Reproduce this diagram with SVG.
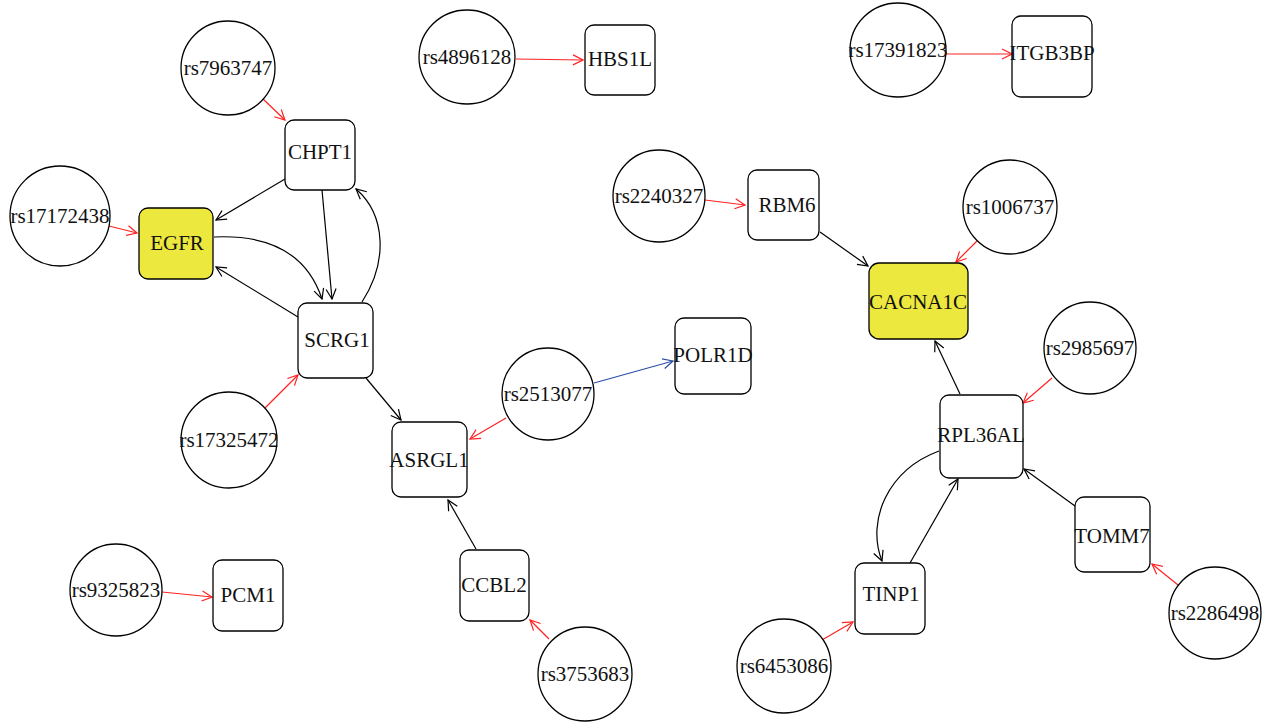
<svg xmlns="http://www.w3.org/2000/svg" width="1265" height="722" viewBox="0 0 1265 722">
<style>
.c{fill:#fff;stroke:#000;stroke-width:1.3}
.r{fill:#fff;stroke:#000;stroke-width:1.3}
.y{fill:#ede83d;stroke:#000;stroke-width:1.3}
text{font-family:"Liberation Serif","Times New Roman",serif;font-size:21px;fill:#111;text-anchor:middle}
.e{fill:none;stroke-width:1.2}
.k{stroke:#000;marker-end:url(#ak)}
.rd{stroke:#f22;marker-end:url(#ar)}
.bl{stroke:#2b4ea8;marker-end:url(#ab)}
</style>
<defs>
<marker id="ak" viewBox="0 0 12 12" refX="11" refY="6" markerWidth="12" markerHeight="12" markerUnits="userSpaceOnUse" orient="auto"><path d="M1,1 L11,6 L1,11" fill="none" stroke="#000" stroke-width="1.2"/></marker>
<marker id="ar" viewBox="0 0 12 12" refX="11" refY="6" markerWidth="12" markerHeight="12" markerUnits="userSpaceOnUse" orient="auto"><path d="M1,1 L11,6 L1,11" fill="none" stroke="#f22" stroke-width="1.2"/></marker>
<marker id="ab" viewBox="0 0 12 12" refX="11" refY="6" markerWidth="12" markerHeight="12" markerUnits="userSpaceOnUse" orient="auto"><path d="M1,1 L11,6 L1,11" fill="none" stroke="#2b4ea8" stroke-width="1.2"/></marker>
</defs>
<g id="edges">
<path class="e rd" d="M262,98 L285,120"/>
<path class="e rd" d="M109,226 L137,233"/>
<path class="e k" d="M285,179 L216,220"/>
<path class="e k" d="M322,190 L332,299"/>
<path class="e k" d="M214,237 Q300,233 322,299"/>
<path class="e k" d="M362,302 C388,262 386,215 356,189"/>
<path class="e k" d="M298,317 L216,267"/>
<path class="e rd" d="M265,408 L298,375"/>
<path class="e k" d="M366,378 L401,420"/>
<path class="e rd" d="M506,418 L470,439"/>
<path class="e bl" d="M594,383 L673,361"/>
<path class="e k" d="M476,549 L448,500"/>
<path class="e rd" d="M549,639 L530,620"/>
<path class="e rd" d="M162,592 L212,597"/>
<path class="e rd" d="M516,59 L583,60"/>
<path class="e rd" d="M947,54 L1012,54"/>
<path class="e rd" d="M705,200 L745,205"/>
<path class="e k" d="M820,232 L868,266"/>
<path class="e rd" d="M977,241 L956,262"/>
<path class="e k" d="M960,394 L935,341"/>
<path class="e rd" d="M1052,378 L1023,403"/>
<path class="e k" d="M1075,506 L1024,469"/>
<path class="e rd" d="M1178,585 L1152,564"/>
<path class="e k" d="M910,563 L958,479"/>
<path class="e k" d="M939,451 C888,470 866,520 882,561"/>
<path class="e rd" d="M822,640 L853,622"/>
</g>
<g id="rs7963747"><circle class="c" cx="228" cy="68" r="47"/><text x="228" y="75">rs7963747</text></g>
<g id="rs4896128"><ellipse class="c" cx="467" cy="57" rx="48" ry="47"/><text x="467" y="64">rs4896128</text></g>
<g id="rs17391823"><ellipse class="c" cx="898" cy="50" rx="48" ry="47"/><text x="898" y="57">rs17391823</text></g>
<g id="rs17172438"><circle class="c" cx="60" cy="216" r="50"/><text x="60" y="223">rs17172438</text></g>
<g id="rs2240327"><circle class="c" cx="659" cy="196" r="46"/><text x="659" y="203">rs2240327</text></g>
<g id="rs1006737"><circle class="c" cx="1010" cy="207" r="47"/><text x="1010" y="214">rs1006737</text></g>
<g id="rs2985697"><circle class="c" cx="1090" cy="348" r="46"/><text x="1090" y="355">rs2985697</text></g>
<g id="rs2513077"><circle class="c" cx="548" cy="394" r="46"/><text x="548" y="401">rs2513077</text></g>
<g id="rs17325472"><circle class="c" cx="229" cy="440" r="48"/><text x="229" y="447">rs17325472</text></g>
<g id="rs9325823"><circle class="c" cx="116" cy="590" r="46"/><text x="116" y="597">rs9325823</text></g>
<g id="rs3753683"><circle class="c" cx="585" cy="674" r="47"/><text x="585" y="681">rs3753683</text></g>
<g id="rs6453086"><circle class="c" cx="784" cy="666" r="47"/><text x="784" y="673">rs6453086</text></g>
<g id="rs2286498"><circle class="c" cx="1215" cy="613" r="46"/><text x="1215" y="620">rs2286498</text></g>
<g id="CHPT1"><rect class="r" x="285" y="120" width="70" height="70" rx="9"/><text x="320" y="159">CHPT1</text></g>
<g id="EGFR"><rect class="y" x="139" y="208" width="74" height="71" rx="9"/><text x="177" y="250">EGFR</text></g>
<g id="SCRG1"><rect class="r" x="298" y="303" width="75" height="75" rx="9"/><text x="337" y="347">SCRG1</text></g>
<g id="HBS1L"><rect class="r" x="585" y="25" width="70" height="70" rx="9"/><text x="620" y="66">HBS1L</text></g>
<g id="ITGB3BP"><rect class="r" x="1012" y="16" width="80" height="81" rx="9"/><text x="1052" y="60">ITGB3BP</text></g>
<g id="RBM6"><rect class="r" x="748" y="170" width="71" height="70" rx="9"/><text x="787" y="212">RBM6</text></g>
<g id="CACNA1C"><rect class="y" x="869" y="263" width="99" height="76" rx="10"/><text x="918" y="309">CACNA1C</text></g>
<g id="POLR1D"><rect class="r" x="675" y="318" width="76" height="76" rx="9"/><text x="713" y="362">POLR1D</text></g>
<g id="ASRGL1"><rect class="r" x="392" y="422" width="75" height="75" rx="9"/><text x="429" y="467">ASRGL1</text></g>
<g id="RPL36AL"><rect class="r" x="940" y="395" width="83" height="83" rx="9"/><text x="981" y="442">RPL36AL</text></g>
<g id="TOMM7"><rect class="r" x="1075" y="497" width="75" height="75" rx="9"/><text x="1112" y="543">TOMM7</text></g>
<g id="TINP1"><rect class="r" x="855" y="563" width="70" height="71" rx="9"/><text x="891" y="601">TINP1</text></g>
<g id="PCM1"><rect class="r" x="213" y="560" width="70" height="71" rx="9"/><text x="248" y="602">PCM1</text></g>
<g id="CCBL2"><rect class="r" x="460" y="550" width="69" height="71" rx="9"/><text x="494" y="592">CCBL2</text></g>
</svg>
